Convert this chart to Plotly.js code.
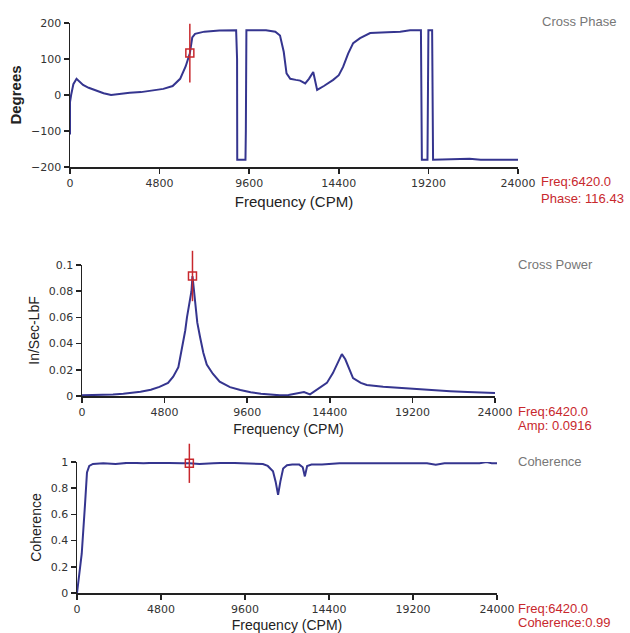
<!DOCTYPE html>
<html>
<head>
<meta charset="utf-8">
<script src="https://cdn.plot.ly/plotly-3.0.1.min.js"></script>
<style>html,body{margin:0;padding:0;background:#fff;}#chart{width:630px;height:633px;}</style>
</head>
<body>
<div id="chart"></div>
<script>
// ---- Data ----
var xTicks = [0, 4800, 9600, 14400, 19200, 24000];

var phaseFreq = [0, 0, 60, 180, 350, 500, 700, 1000, 1400, 1800, 2200, 2600, 3200, 3800, 4400, 5000, 5500, 5900, 6200, 6420, 6550, 6700, 7200, 8000, 8900, 8950, 8960, 9400, 9420, 9450, 10500, 11000, 11250, 11450, 11600, 11800, 12100, 12330, 12600, 12800, 13030, 13240, 13600, 14100, 14400, 14630, 14900, 15170, 15540, 16080, 17000, 17690, 18220, 18800, 18850, 19150, 19200, 19400, 19450, 20500, 21400, 22000, 24000];
var phaseDeg  = [-110, -20, 0, 30, 45, 38, 28, 20, 12, 5, 0, 3, 6, 8, 12, 17, 25, 45, 80, 116, 160, 170, 176, 179, 180, 100, -180, -180, -100, 180, 180, 176, 165, 120, 60, 45, 42, 40, 32, 45, 64, 14, 25, 42, 55, 78, 115, 144, 158, 172, 174, 176, 180, 180, -180, -180, 180, 180, -180, -178, -177, -180, -180];

var powerFreq = [0, 600, 1200, 1800, 2400, 3000, 3400, 4000, 4500, 5000, 5300, 5600, 5800, 6000, 6100, 6250, 6360, 6420, 6500, 6600, 6700, 6860, 7050, 7250, 7600, 8000, 8600, 9200, 9800, 10400, 11000, 11500, 12000, 12500, 12900, 13250, 13700, 14230, 14580, 14850, 15100, 15300, 15500, 15750, 16200, 16550, 17500, 18500, 19500, 20400, 21400, 22400, 23200, 24000];
var powerAmp  = [0.0005, 0.0006, 0.0008, 0.0012, 0.0018, 0.0025, 0.0033, 0.0048, 0.007, 0.01, 0.0147, 0.022, 0.035, 0.05, 0.06, 0.072, 0.08, 0.0916, 0.08, 0.068, 0.056, 0.045, 0.033, 0.024, 0.017, 0.011, 0.0068, 0.0046, 0.0028, 0.0018, 0.001, 0.0005, 0.0008, 0.0018, 0.003, 0.0012, 0.005, 0.01, 0.0175, 0.025, 0.032, 0.028, 0.021, 0.0137, 0.01, 0.0084, 0.007, 0.006, 0.005, 0.0042, 0.0036, 0.003, 0.0028, 0.0022];

var cohFreq = [0, 100, 270, 460, 570, 700, 910, 1500, 2200, 3000, 3800, 4500, 5200, 6000, 6420, 7000, 7800, 8600, 9400, 10200, 10620, 10900, 11200, 11350, 11490, 11620, 11780, 12000, 12300, 12700, 12900, 13020, 13150, 13400, 14000, 15000, 16000, 17000, 18000, 19000, 20000, 20500, 21000, 22000, 23000, 23400, 23700, 24000];
var cohVal  = [0.0, 0.12, 0.3, 0.68, 0.92, 0.97, 0.985, 0.99, 0.985, 0.995, 0.99, 0.995, 0.99, 0.99, 0.99, 0.985, 0.99, 0.995, 0.99, 0.99, 0.985, 0.97, 0.93, 0.85, 0.75, 0.85, 0.95, 0.975, 0.98, 0.98, 0.96, 0.89, 0.97, 0.98, 0.98, 0.99, 0.99, 0.99, 0.99, 0.985, 0.99, 0.98, 0.99, 0.99, 0.99, 1.0, 0.99, 0.99];

var cursorFreq = [6420];
var cursorPhase = [116.43];
var cursorAmp = [0.0916];
var cursorCoh = [0.99];

// ---- Styles ----
var lineColor = '#35358f';
var red = '#c8282d';
var tickFont = {family: 'DejaVu Sans, Arial, sans-serif', size: 11, color: '#333'};
var titleFontFamily = 'Liberation Sans, Arial, sans-serif';

function lineTrace(x, y, xa, ya) {
  return {x: x, y: y, xaxis: xa, yaxis: ya, type: 'scatter', mode: 'lines',
          line: {color: lineColor, width: 2}, hoverinfo: 'skip', showlegend: false};
}
function cursorTraces(x, y, xa, ya, len) {
  return [
    {x: x, y: y, xaxis: xa, yaxis: ya, type: 'scatter', mode: 'markers', cliponaxis: false,
     marker: {symbol: 'line-ns-open', size: len, color: red, line: {color: red, width: 1.5}}, showlegend: false, hoverinfo: 'skip'},
    {x: x, y: y, xaxis: xa, yaxis: ya, type: 'scatter', mode: 'markers', cliponaxis: false,
     marker: {symbol: 'square-open', size: 8, color: red, line: {color: red, width: 1.5}}, showlegend: false, hoverinfo: 'skip'}
  ];
}

var data = [lineTrace(phaseFreq, phaseDeg, 'x', 'y')]
  .concat(cursorTraces(cursorFreq, cursorPhase, 'x', 'y', 42))
  .concat([lineTrace(powerFreq, powerAmp, 'x2', 'y2')])
  .concat(cursorTraces(cursorFreq, cursorAmp, 'x2', 'y2', 36))
  .concat([lineTrace(cohFreq, cohVal, 'x3', 'y3')])
  .concat(cursorTraces(cursorFreq, cursorCoh, 'x3', 'y3', 28));

function xAxis(domain, anchor, size, standoff) {
  return {domain: domain, anchor: anchor, range: [0, 24000], tickvals: xTicks,
          ticktext: xTicks.map(String), showline: true, linecolor: '#222', linewidth: 1.5,
          ticks: 'outside', ticklen: 5, tickwidth: 1.5, tickcolor: '#222', showgrid: false,
          zeroline: false, tickfont: tickFont, fixedrange: true,
          title: {text: 'Frequency (CPM)', font: {family: titleFontFamily, size: size, color: '#222'}, standoff: standoff}};
}
function yAxis(domain, anchor, range, dtick, title, tfont, standoff) {
  return {domain: domain, anchor: anchor, range: range, dtick: dtick, tick0: range[0],
          showline: true, linecolor: '#222', linewidth: 1.5, ticks: 'outside', ticklen: 5,
          tickwidth: 1.5, tickcolor: '#222', showgrid: false, zeroline: false,
          tickfont: tickFont, fixedrange: true,
          title: {text: title, font: tfont, standoff: standoff}};
}

function ann(text, px, py, color, size) {
  return {text: text, x: px / 630, y: 1 - py / 633, xref: 'paper', yref: 'paper',
          xanchor: 'left', yanchor: 'middle', showarrow: false,
          font: {family: titleFontFamily, size: size, color: color}};
}

var layout = {
  width: 630, height: 633,
  margin: {l: 0, r: 0, t: 0, b: 0},
  paper_bgcolor: '#ffffff', plot_bgcolor: '#ffffff',
  showlegend: false,
  xaxis: xAxis([70/630, 518/630], 'y', 15, 8),
  yaxis: yAxis([1-167/633, 1-23/633], 'x', [-200, 200], 100, '<b>Degrees</b>',
               {family: titleFontFamily, size: 15, color: '#222'}, 6),
  xaxis2: xAxis([82/630, 495/630], 'y2', 14, 6),
  yaxis2: yAxis([1-396/633, 1-265/633], 'x2', [0, 0.1], 0.02, 'In/Sec-LbF',
               {family: titleFontFamily, size: 14, color: '#222'}, 6),
  xaxis3: xAxis([77/630, 497/630], 'y3', 14, 6),
  yaxis3: yAxis([1-593/633, 1-462/633], 'x3', [0, 1], 0.2, 'Coherence',
               {family: titleFontFamily, size: 14, color: '#222'}, 6),
  annotations: [
    ann('Cross Phase', 540, 22, '#777', 13),
    ann('Freq:' + cursorFreq[0].toFixed(1), 539, 182, red, 13),
    ann('Phase: ' + cursorPhase[0].toFixed(2), 539, 199, red, 13),
    ann('Cross Power', 516, 264, '#777', 13),
    ann('Freq:' + cursorFreq[0].toFixed(1), 516, 411, red, 13),
    ann('Amp: ' + cursorAmp[0].toFixed(4), 516, 426, red, 13),
    ann('Coherence', 516, 461, '#777', 13),
    ann('Freq:' + cursorFreq[0].toFixed(1), 516, 608, red, 13),
    ann('Coherence:' + cursorCoh[0].toFixed(2), 516, 622, red, 13)
  ]
};

Plotly.newPlot('chart', data, layout, {displayModeBar: false, staticPlot: true});
</script>
</body>
</html>
